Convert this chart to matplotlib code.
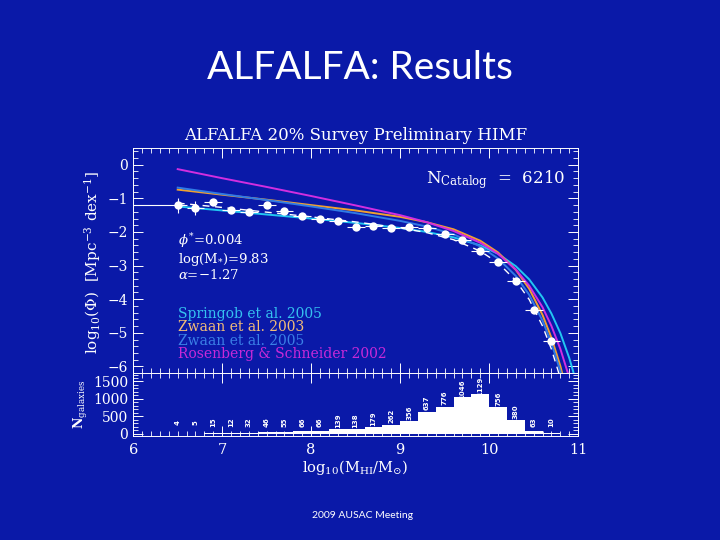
import numpy as np
import matplotlib
matplotlib.use('Agg')
import matplotlib.pyplot as plt
from matplotlib.ticker import MultipleLocator

plt.rcParams['mathtext.fontset'] = 'dejavuserif'

bg = '#0a19a8'
white = 'white'

# Binned HIMF points (log10 Phi) and errors
bin_x = [6.5, 6.7, 6.9, 7.1, 7.3, 7.5, 7.7, 7.9, 8.1, 8.3, 8.5,
         8.7, 8.9, 9.1, 9.3, 9.5, 9.7, 9.9, 10.1, 10.3, 10.5, 10.7]
phi = [-1.21, -1.28, -1.10, -1.36, -1.41, -1.20, -1.37, -1.53, -1.61, -1.66,
       -1.86, -1.81, -1.89, -1.85, -1.89, -2.06, -2.25, -2.58, -2.89, -3.47,
       -4.32, -5.24]
phi_err = [0.23, 0.20, 0.08, 0.07, 0.06, 0.07, 0.05, 0.05, 0.05, 0.05, 0.04,
           0.04, 0.03, 0.03, 0.03, 0.03, 0.03, 0.03, 0.03, 0.04, 0.05, 0.08]
n_gal = [4, 5, 15, 12, 32, 46, 55, 66, 66, 139, 138, 179, 262, 356, 637,
         776, 1046, 1129, 756, 380, 63, 10]

# Curves
curve_x = [6.5, 7.0, 7.5, 8.0, 8.5, 9.0, 9.3, 9.6, 9.9, 10.1, 10.3, 10.45,
           10.6, 10.7, 10.8, 10.9, 11.0]
springob05 = [-1.24, -1.36, -1.48, -1.60, -1.73, -1.88, -2.00, -2.16, -2.40,
              -2.65, -3.02, -3.41, -3.95, -4.43, -5.01, -5.75, -6.66]
zwaan05 = [-0.68, -0.87, -1.05, -1.24, -1.44, -1.67, -1.84, -2.07, -2.43,
           -2.79, -3.31, -3.87, -4.64, -5.31, -6.14, -7.18, -8.48]
zwaan03 = [-0.74, -0.89, -1.04, -1.20, -1.36, -1.55, -1.71, -1.92, -2.26,
           -2.61, -3.13, -3.69, -4.47, -5.15, -5.99, -7.05, -8.37]
rosenberg02 = [-0.13, -0.40, -0.66, -0.93, -1.21, -1.50, -1.71, -1.97, -2.32,
               -2.65, -3.12, -3.60, -4.24, -4.80, -5.48, -6.33, -7.39]
alfalfa_fit = [-1.14, -1.27, -1.41, -1.55, -1.70, -1.88, -2.02, -2.23, -2.57,
               -2.92, -3.45, -4.01, -4.80, -5.49, -6.35, -7.43, -8.78]

curves = [
    ("Springob et al. 2005", springob05, '#22c6f2', '#35c2f0'),
    ("Zwaan et al. 2003", zwaan03, '#f0a030', '#f3bd78'),
    ("Zwaan et al. 2005", zwaan05, '#2f7ae6', '#3a80e6'),
    ("Rosenberg & Schneider 2002", rosenberg02, '#d22ee0', '#c829d8'),
]


def style_axes(ax):
    ax.set_facecolor(bg)
    for sp in ax.spines.values():
        sp.set_color(white)
        sp.set_linewidth(0.7)
    ax.tick_params(which='both', direction='in', colors=white,
                   top=True, right=True, labelsize=10)
    ax.tick_params(which='major', length=7, width=0.7)
    ax.tick_params(which='minor', length=3.5, width=0.6)
    for lab in ax.get_xticklabels() + ax.get_yticklabels():
        lab.set_family('DejaVu Serif')


def main():
    fig = plt.figure(figsize=(7.2, 5.4), dpi=100, facecolor=bg)
    ax = fig.add_axes([0.185, 0.309, 0.618, 0.417])
    axh = fig.add_axes([0.185, 0.193, 0.618, 0.116], sharex=ax)

    # Top: mass function
    for label, vals, col, tcol in curves:
        ax.plot(curve_x, vals, color=col, lw=1.4)
    ax.plot(curve_x, alfalfa_fit, color=white, lw=1.0, ls=(0, (5, 4)))

    xerr_lo = [0.5] + [0.1] * (len(bin_x) - 1)
    xerr_hi = [0.1] * len(bin_x)
    ax.errorbar(bin_x, phi, yerr=phi_err, xerr=[xerr_lo, xerr_hi], fmt='o',
                color=white, ms=6, elinewidth=0.8, capsize=2.5, mew=0)

    ax.set_xlim(6, 11)
    ax.set_ylim(-6.2, 0.5)
    ax.xaxis.set_major_locator(MultipleLocator(1))
    ax.xaxis.set_minor_locator(MultipleLocator(0.1))
    ax.yaxis.set_major_locator(MultipleLocator(1))
    ax.yaxis.set_minor_locator(MultipleLocator(0.2))
    style_axes(ax)
    ax.tick_params(labelbottom=False)

    params = '\n'.join([r'$\phi^{*}$=0.004', r'log(M$_{*}$)=9.83',
                        r'$\alpha$=$-$1.27'])
    ax.text(6.5, -1.98, params, color=white, fontsize=9.5, linespacing=1.05,
            family='DejaVu Serif', va='top')
    for i, (label, vals, col, tcol) in enumerate(curves):
        ax.text(6.5, -4.44 - 0.40 * i, label, color=tcol, fontsize=10,
                family='DejaVu Serif', va='center')
    ax.text(9.29, -0.43, r'N$_{\rm Catalog}$  =  6210', color=white,
            fontsize=12, family='DejaVu Serif', va='center')
    ax.set_title('ALFALFA 20% Survey Preliminary HIMF', color=white,
                 fontsize=12, family='DejaVu Serif', pad=6)

    # Bottom: histogram of galaxy counts
    axh.bar(bin_x, n_gal, width=0.2, color=white, edgecolor='none')
    for x, n in zip(bin_x, n_gal):
        axh.text(x, max(n, 80) + 245, str(n), color=white, fontsize=5,
                 fontweight='bold', rotation=90, ha='center', va='center')
    axh.set_ylim(-60, 1740)
    axh.yaxis.set_major_locator(MultipleLocator(500))
    axh.yaxis.set_minor_locator(MultipleLocator(100))
    style_axes(axh)
    axh.set_xticks([6, 7, 8, 9, 10, 11])
    for lab in axh.get_xticklabels():
        lab.set_family('DejaVu Serif')
        lab.set_fontsize(10.5)
    axh.tick_params(axis='x', which='major', pad=5)

    fig.text(0.128, 0.515, r'log$_{10}$($\Phi$)  [Mpc$^{-3}$ dex$^{-1}$]',
             color=white, fontsize=11, family='DejaVu Serif', rotation=90,
             ha='center', va='center')
    fig.text(0.112, 0.251, r'N$_{\rm galaxies}$', color=white, fontsize=9,
             family='DejaVu Serif', fontweight='bold', rotation=90,
             ha='center', va='center')
    fig.text(0.493, 0.134, r'log$_{10}$(M$_{\rm HI}$/M$_{\odot}$)',
             color=white, fontsize=10.5, family='DejaVu Serif',
             ha='center', va='center')

    fig.text(0.5, 0.874, 'ALFALFA: Results', color=white, fontsize=28,
             family='Lato', ha='center', va='center')
    fig.text(0.503, 0.046, '2009 AUSAC Meeting', color=white, fontsize=7.5,
             family='Lato', ha='center', va='center')

    fig.savefig('out.png', dpi=100, facecolor=bg)
    plt.close()


if __name__ == '__main__':
    main()
